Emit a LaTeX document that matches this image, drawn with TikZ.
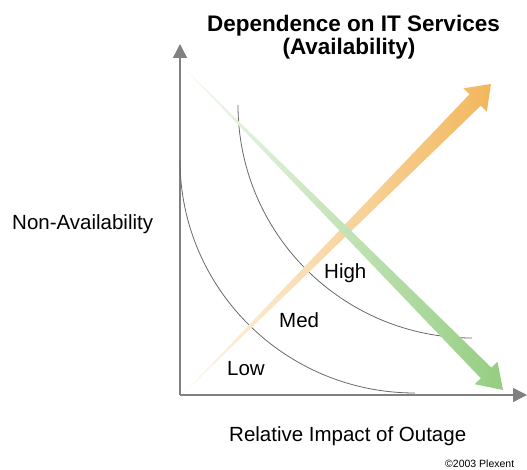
\documentclass[tikz,border=0pt]{standalone}
\usepackage{fontspec}
\setmainfont{Liberation Sans}
\usetikzlibrary{calc,arrows.meta}
\definecolor{axisgray}{RGB}{128,128,128}
\definecolor{curvegray}{RGB}{105,105,105}
\definecolor{arroworange}{RGB}{242,183,92}
\definecolor{arrowgreen}{RGB}{148,205,128}
\begin{document}
\begin{tikzpicture}[x=1pt,y=-1pt,
  axis/.style={draw=axisgray,line width=1.5pt,-{Triangle[length=14pt,width=14pt]}},
  zone/.style={draw=curvegray,line width=0.8pt},
  lbl/.style={inner sep=0pt,anchor=base west,font=\fontsize{20.5}{24}\selectfont},
  ttl/.style={inner sep=0pt,anchor=base,font=\fontsize{22.5}{26}\selectfont\bfseries},
  note/.style={inner sep=0pt,anchor=base west,font=\fontsize{10.5}{12}\selectfont}]
\useasboundingbox (0,0) rectangle (527,470);

% axes
\coordinate (O) at (180,395);
\coordinate (Ytip) at (180,44);
\coordinate (Xtip) at (527,395);
\draw[axis] (O) -- (Ytip);
\draw[axis] (O) -- (Xtip);

% zone boundaries (quarter circles)
\coordinate (lowA) at (180,160);
\coordinate (lowB) at (415,393);
\draw[zone] (lowA) .. controls (180,288.7) and (285.2,393) .. (lowB);
\coordinate (highA) at (238,105);
\coordinate (highB) at (472,338);
\draw[zone] (highA) .. controls (238,233.7) and (342.8,338) .. (highB);

% rising arrow
\coordinate (oS) at (183,394);
\coordinate (oT) at (491,84);
\coordinate (oH) at ($(oT)!22.5pt!(oS)$);
\shade[left color=arroworange!12,right color=arroworange]
  (oS) -- ($(oH)!8pt!90:(oT)$) -- ($(oH)!16.5pt!90:(oT)$) -- (oT)
  -- ($(oH)!16.5pt!-90:(oT)$) -- ($(oH)!8pt!-90:(oT)$) -- cycle;

% falling arrow
\coordinate (gS) at (182,66);
\coordinate (gT) at (503,390);
\coordinate (gH) at ($(gT)!24pt!(gS)$);
\shade[left color=arrowgreen!12,right color=arrowgreen]
  (gS) -- ($(gH)!7.5pt!90:(gT)$) -- ($(gH)!16pt!90:(gT)$) -- (gT)
  -- ($(gH)!16pt!-90:(gT)$) -- ($(gH)!7.5pt!-90:(gT)$) -- cycle;

% texts
\node[ttl] (title1) at (353.5,32) {Dependence on IT Services};
\node[ttl] (title2) at (349,55) {(Availability)};
\node[lbl] (ylabel) at (12,230) {Non-Availability};
\node[lbl] (xlabel) at (229,441) {Relative Impact of Outage};
\node[lbl] (low) at (227,375) {Low};
\node[lbl] (med) at (279,327) {Med};
\node[lbl] (high) at (324,279) {High};
\node[note] (copy) at (445,467) {©2003 Plexent};
\end{tikzpicture}
\end{document}
